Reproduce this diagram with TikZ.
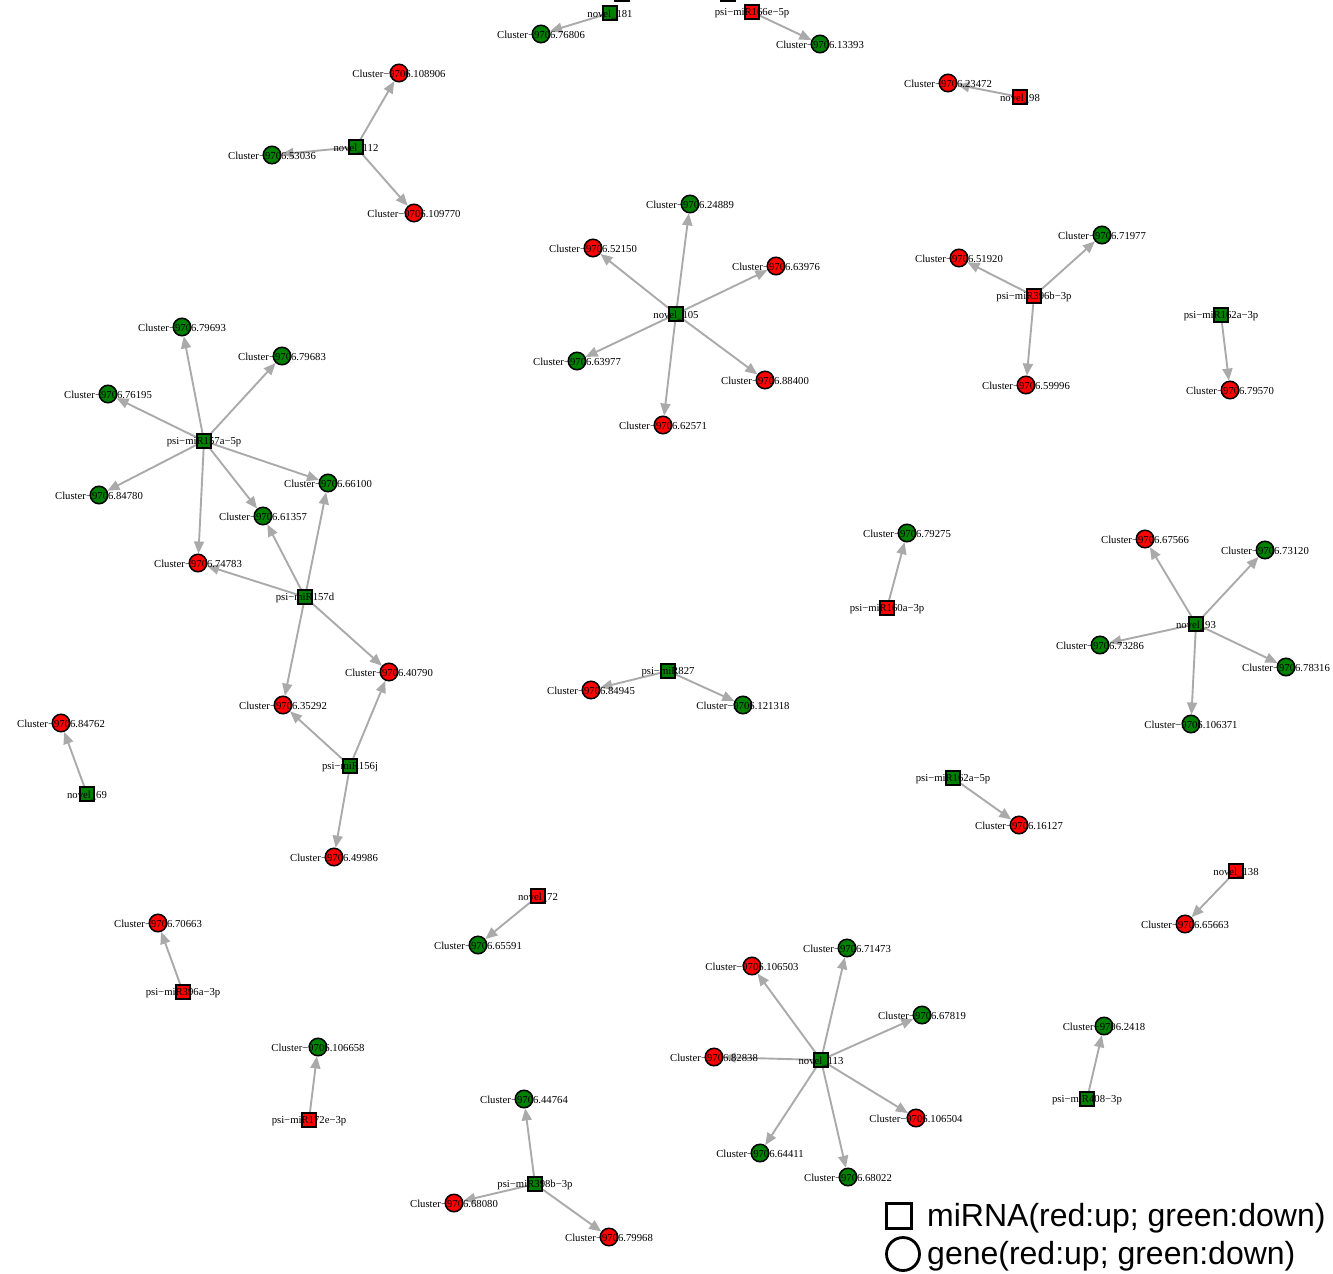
\documentclass[tikz,border=0pt]{standalone}
\usepackage{fontspec}
\setmainfont{Liberation Serif}
\newfontfamily\legfont{Liberation Sans}
\usetikzlibrary{arrows.meta}
\pgfdeclarelayer{bg}
\pgfsetlayers{bg,main}
\definecolor{gup}{RGB}{255,0,0}
\definecolor{gdn}{RGB}{0,128,0}
\definecolor{edgegray}{RGB}{170,170,170}
\tikzset{
  gene/.style={circle, draw=black, line width=1.5pt, minimum size=17.5pt, inner sep=0pt},
  mir/.style={rectangle, draw=black, line width=1.5pt, minimum size=14pt, inner sep=0pt},
  lbl/.style={font=\fontsize{10.7}{12}\selectfont, inner sep=0pt, text=black, yshift=-1pt},
  edge/.style={draw=edgegray, line width=1.9pt, -{Triangle[length=12pt,width=10pt]}},
}
\newcommand\gnode[5]{\node[gene,fill=#4,label={[lbl]center:Cluster−#5}] (#1) at (#2,#3) {};}
\newcommand\mnode[5]{\node[mir,fill=#4,label={[lbl]center:#5}] (#1) at (#2,#3) {};}
\newcommand\edgesfrom[2]{\foreach \t in {#2} {\draw[edge] (#1) -- (\t);}}
\begin{document}
\begin{tikzpicture}[x=1pt,y=-1pt]
\useasboundingbox (0,0) rectangle (1333,1274);
\clip (0,0) rectangle (1333,1274);
% partially visible nodes at the top edge
\node[mir,fill=gdn] (topa) at (622,-6) {};
\node[mir,fill=gdn] (topb) at (728,-6) {};
% top
\mnode{n181}{610}{13}{gdn}{novel\_181}
\gnode{c76806}{541}{34}{gdn}{9706.76806}
\mnode{m166e}{752}{12}{gup}{psi−miR166e−5p}
\gnode{c13393}{820}{44}{gdn}{9706.13393}
% novel_112
\gnode{c108906}{399}{73}{gup}{9706.108906}
\mnode{n112}{356}{147}{gdn}{novel\_112}
\gnode{c53036}{272}{155}{gdn}{9706.53036}
\gnode{c109770}{414}{213}{gup}{9706.109770}
% novel_98
\gnode{c23472}{948}{83}{gup}{9706.23472}
\mnode{n98}{1020}{97}{gup}{novel\_98}
% novel_105
\gnode{c24889}{690}{204}{gdn}{9706.24889}
\gnode{c52150}{593}{248}{gup}{9706.52150}
\gnode{c63976}{776}{266}{gup}{9706.63976}
\mnode{n105}{676}{314}{gdn}{novel\_105}
\gnode{c63977}{577}{361}{gdn}{9706.63977}
\gnode{c88400}{765}{380}{gup}{9706.88400}
\gnode{c62571}{663}{425}{gup}{9706.62571}
% miR396b
\gnode{c71977}{1102}{235}{gdn}{9706.71977}
\gnode{c51920}{959}{258}{gup}{9706.51920}
\mnode{m396b}{1034}{296}{gup}{psi−miR396b−3p}
\gnode{c59996}{1026}{385}{gup}{9706.59996}
% miR162a-3p
\mnode{m162a3}{1221}{315}{gdn}{psi−miR162a−3p}
\gnode{c79570}{1230}{390}{gup}{9706.79570}
% miR157a-5p
\gnode{c79693}{182}{327}{gdn}{9706.79693}
\gnode{c79683}{282}{356}{gdn}{9706.79683}
\gnode{c76195}{108}{394}{gdn}{9706.76195}
\mnode{m157a}{204}{441}{gdn}{psi−miR157a−5p}
\gnode{c84780}{99}{495}{gdn}{9706.84780}
\gnode{c66100}{328}{483}{gdn}{9706.66100}
\gnode{c61357}{263}{516}{gdn}{9706.61357}
\gnode{c74783}{198}{563}{gup}{9706.74783}
\mnode{m157d}{305}{597}{gdn}{psi−miR157d}
\gnode{c40790}{389}{672}{gup}{9706.40790}
\gnode{c35292}{283}{705}{gup}{9706.35292}
\mnode{m156j}{350}{766}{gdn}{psi−miR156j}
\gnode{c49986}{334}{857}{gup}{9706.49986}
% novel_69
\gnode{c84762}{61}{723}{gup}{9706.84762}
\mnode{n69}{87}{794}{gdn}{novel\_69}
% miR160a
\gnode{c79275}{907}{533}{gdn}{9706.79275}
\mnode{m160a}{887}{608}{gup}{psi−miR160a−3p}
% miR827
\mnode{m827}{668}{671}{gdn}{psi−miR827}
\gnode{c84945}{591}{690}{gup}{9706.84945}
\gnode{c121318}{743}{705}{gdn}{9706.121318}
% novel_93
\gnode{c67566}{1145}{539}{gup}{9706.67566}
\gnode{c73120}{1265}{550}{gdn}{9706.73120}
\mnode{n93}{1196}{624}{gdn}{novel\_93}
\gnode{c73286}{1100}{645}{gdn}{9706.73286}
\gnode{c78316}{1286}{667}{gdn}{9706.78316}
\gnode{c106371}{1191}{724}{gdn}{9706.106371}
% miR162a-5p
\mnode{m162a5}{953}{778}{gdn}{psi−miR162a−5p}
\gnode{c16127}{1019}{825}{gup}{9706.16127}
% novel_138
\mnode{n138}{1236}{871}{gup}{novel\_138}
\gnode{c65663}{1185}{924}{gup}{9706.65663}
% novel_72
\mnode{n72}{538}{896}{gup}{novel\_72}
\gnode{c65591}{478}{945}{gdn}{9706.65591}
% miR396a
\gnode{c70663}{158}{923}{gup}{9706.70663}
\mnode{m396a}{183}{992}{gup}{psi−miR396a−3p}
% miR172e
\gnode{c106658}{318}{1047}{gdn}{9706.106658}
\mnode{m172e}{309}{1120}{gup}{psi−miR172e−3p}
% miR398b
\gnode{c44764}{524}{1099}{gdn}{9706.44764}
\mnode{m398b}{535}{1184}{gdn}{psi−miR398b−3p}
\gnode{c68080}{454}{1203}{gup}{9706.68080}
\gnode{c79968}{609}{1237}{gup}{9706.79968}
% novel_113
\gnode{c71473}{847}{948}{gdn}{9706.71473}
\gnode{c106503}{752}{966}{gup}{9706.106503}
\gnode{c67819}{922}{1015}{gdn}{9706.67819}
\gnode{c82838}{714}{1057}{gup}{9706.82838}
\mnode{n113}{821}{1060}{gdn}{novel\_113}
\gnode{c106504}{916}{1118}{gup}{9706.106504}
\gnode{c64411}{760}{1153}{gdn}{9706.64411}
\gnode{c68022}{848}{1177}{gdn}{9706.68022}
% miR408
\gnode{c2418}{1104}{1026}{gdn}{9706.2418}
\mnode{m408}{1087}{1099}{gdn}{psi−miR408−3p}
% edges
\begin{pgfonlayer}{bg}
\edgesfrom{n181}{c76806}
\edgesfrom{m166e}{c13393}
\edgesfrom{n112}{c108906,c53036,c109770}
\edgesfrom{n98}{c23472}
\edgesfrom{n105}{c24889,c52150,c63976,c63977,c88400,c62571}
\edgesfrom{m396b}{c71977,c51920,c59996}
\edgesfrom{m162a3}{c79570}
\edgesfrom{m157a}{c79693,c79683,c76195,c84780,c66100,c61357,c74783}
\edgesfrom{m157d}{c74783,c61357,c66100,c40790,c35292}
\edgesfrom{m156j}{c35292,c40790,c49986}
\edgesfrom{n69}{c84762}
\edgesfrom{m160a}{c79275}
\edgesfrom{m827}{c84945,c121318}
\edgesfrom{n93}{c67566,c73120,c73286,c78316,c106371}
\edgesfrom{m162a5}{c16127}
\edgesfrom{n138}{c65663}
\edgesfrom{n72}{c65591}
\edgesfrom{m396a}{c70663}
\edgesfrom{m172e}{c106658}
\edgesfrom{m398b}{c44764,c68080,c79968}
\edgesfrom{n113}{c71473,c106503,c67819,c82838,c106504,c64411,c68022}
\edgesfrom{m408}{c2418}
\end{pgfonlayer}
% legend
\node[rectangle, draw=black, line width=2.8pt, minimum size=25pt, inner sep=0pt] (legsq) at (899,1216) {};
\node[circle, draw=black, line width=2.8pt, minimum size=33pt, inner sep=0pt] (legci) at (903,1254) {};
\node[anchor=west, inner sep=0pt, font=\legfont\fontsize{32}{34}\selectfont] (legt1) at (927,1218) {miRNA(red:up; green:down)};
\node[anchor=west, inner sep=0pt, font=\legfont\fontsize{32}{34}\selectfont] (legt2) at (927,1256) {gene(red:up; green:down)};
\end{tikzpicture}
\end{document}
